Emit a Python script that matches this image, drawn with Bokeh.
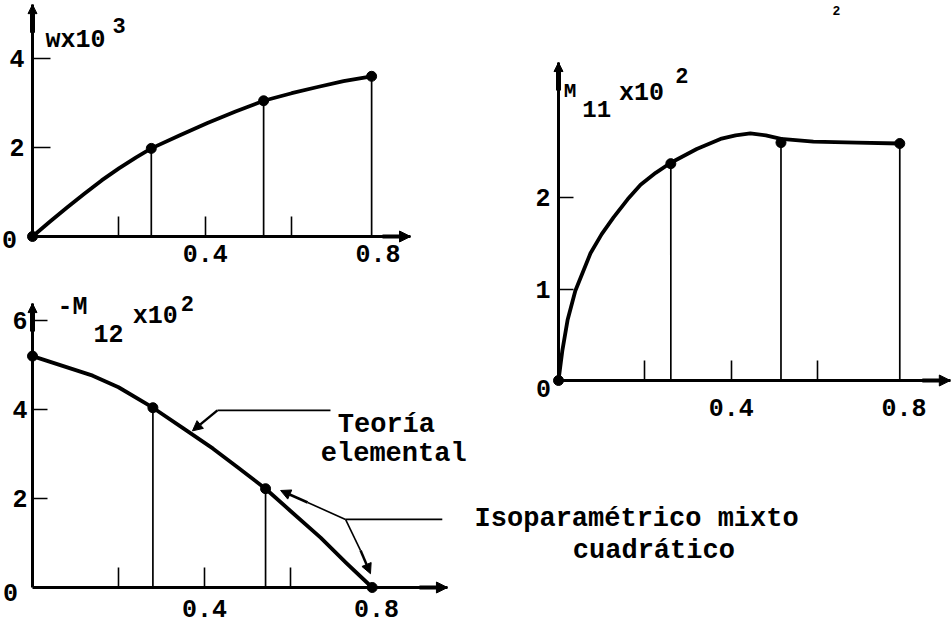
from bokeh.plotting import figure
from bokeh.models import Range1d, LinearAxis, FixedTicker, Arrow, NormalHead, Label
from bokeh.core.properties import value
from bokeh.embed import file_html
from bokeh.resources import INLINE

# ---------------- data ----------------
# deflection  w x 10^3
w_nodes_x = [0.0, 0.275, 0.535, 0.785]
w_nodes_y = [0.0, 1.98, 3.05, 3.6]
w_curve_x = [0.0, 0.04, 0.08, 0.12, 0.16, 0.2, 0.24, 0.275, 0.34, 0.405, 0.47, 0.535, 0.6, 0.66, 0.72, 0.785]
w_curve_y = [0.0, 0.33, 0.65, 0.96, 1.26, 1.53, 1.78, 1.98, 2.27, 2.55, 2.81, 3.05, 3.22, 3.36, 3.49, 3.6]

# moment  M11 x 10^2
m11_nodes_x = [0.0, 0.26, 0.515, 0.79]
m11_nodes_y = [0.0, 2.37, 2.6, 2.59]
m11_curve_x = [0.0, 0.009, 0.021, 0.039, 0.074, 0.1, 0.127, 0.16, 0.19, 0.225, 0.26, 0.32, 0.375, 0.41, 0.444, 0.48, 0.515, 0.59, 0.69, 0.79]
m11_curve_y = [0.0, 0.33, 0.66, 0.98, 1.39, 1.60, 1.78, 1.98, 2.14, 2.27, 2.38, 2.53, 2.64, 2.68, 2.70, 2.68, 2.64, 2.61, 2.60, 2.59]

# twisting moment  -M12 x 10^2
m12_nodes_x = [0.0, 0.28, 0.542, 0.79]
m12_nodes_y = [5.2, 4.04, 2.22, 0.0]
m12_curve_x = [0.0, 0.07, 0.14, 0.2, 0.28, 0.35, 0.42, 0.48, 0.542, 0.6, 0.67, 0.73, 0.79]
m12_curve_y = [5.2, 4.98, 4.76, 4.5, 4.04, 3.58, 3.12, 2.68, 2.22, 1.72, 1.12, 0.55, 0.0]

# axis ticks
x_marks = [0.2, 0.4, 0.6]
x_labels = [0.4, 0.8]
w_ticks = [2, 4]
m11_ticks = [1, 2]
m12_ticks = [2, 4, 6]

# ---------------- page ----------------
W, H = 951, 628
FONT = "Liberation Mono"
STYLE = "bold"

p = figure(width=W, height=H, x_range=Range1d(0, W), y_range=Range1d(H, 0),
           x_axis_type=None, y_axis_type=None, min_border=0,
           toolbar_location=None, output_backend="svg")
p.grid.visible = False
p.outline_line_color = None
p.background_fill_color = "white"
p.border_fill_color = "white"

# each panel: origin on the page (px) and pixels per data unit
panels = {
    "w":   dict(x0=32,  sx=432, y0=236, sy=44.5),
    "m11": dict(x0=558, sx=432, y0=380, sy=91.5),
    "m12": dict(x0=32,  sx=430, y0=587, sy=44.5),
}
xr, yr = {}, {}
for k, g in panels.items():
    xr[k] = Range1d((0 - g["x0"]) / g["sx"], (W - g["x0"]) / g["sx"])
    yr[k] = Range1d((g["y0"] - H) / g["sy"], g["y0"] / g["sy"])
p.extra_x_ranges = xr
p.extra_y_ranges = yr


def axes(k, xend, yend, yticks, ytick_len, xstand, ystand):
    kw = dict(x_range_name=k, y_range_name=k, fixed_location=0)
    lab = dict(major_label_text_font=FONT, major_label_text_font_size="25px",
               major_label_text_font_style=STYLE, major_label_text_color="black")
    # x axis line with short upward marks
    xa = LinearAxis(bounds=(0, xend), ticker=FixedTicker(ticks=x_marks),
                    major_tick_in=20, major_tick_out=0, major_tick_line_width=1.6,
                    axis_line_width=3, major_label_text_color=None,
                    minor_tick_line_color=None, **kw)
    # x tick labels
    xl = LinearAxis(ticker=FixedTicker(ticks=x_labels), axis_line_color=None,
                    major_tick_line_color=None, major_tick_in=0, major_tick_out=0,
                    minor_tick_line_color=None, major_label_standoff=xstand, **lab, **kw)
    ya = LinearAxis(bounds=(0, yend), ticker=FixedTicker(ticks=yticks),
                    major_tick_in=ytick_len, major_tick_out=0, major_tick_line_width=1.6,
                    axis_line_width=3, minor_tick_line_color=None,
                    major_label_standoff=ystand, **lab, **kw)
    p.add_layout(xa, "below")
    p.add_layout(xl, "below")
    p.add_layout(ya, "left")
    g = panels[k]
    # arrow tips on both axes
    p.add_layout(Arrow(x_start=xend - 28 / g["sx"], y_start=0, x_end=xend, y_end=0,
                       line_width=4, end=NormalHead(size=11, fill_color="black", line_color="black"),
                       x_range_name=k, y_range_name=k))
    p.add_layout(Arrow(x_start=0, y_start=yend - 28 / g["sy"], x_end=0, y_end=yend,
                       line_width=5, end=NormalHead(size=9, fill_color="black", line_color="black"),
                       x_range_name=k, y_range_name=k))


def series(k, cx, cy, nx, ny, drops):
    kw = dict(x_range_name=k, y_range_name=k)
    p.segment(x0=[nx[i] for i in drops], y0=[0] * len(drops),
              x1=[nx[i] for i in drops], y1=[ny[i] for i in drops],
              line_color="black", line_width=1.7, **kw)
    p.line(cx, cy, line_color="black", line_width=3.8, line_join="round", **kw)
    p.scatter(nx, ny, size=10, fill_color="black", line_color="black", **kw)


def txt(k, x, y, s, size, xo=0, yo=0, align="left"):
    p.text(x=[x], y=[y], text=[s], x_offset=xo, y_offset=yo,
           text_font=value(FONT), text_font_size=value(size), text_font_style=STYLE,
           text_color="black", text_align=align, text_baseline="middle",
           x_range_name=k, y_range_name=k)


# ---- w x 10^3 ----
axes("w", 0.875, 5.21, w_ticks, 18, 8, 8)
series("w", w_curve_x, w_curve_y, w_nodes_x, w_nodes_y, [1, 2, 3])
txt("w", 0, 0, "0", "25px", xo=-23, yo=3, align="center")
txt("w", 0.03, 4.40, "wx10", "25px")
txt("w", 0.185, 4.74, "3", "22px")

# ---- M11 x 10^2 ----
axes("m11", 0.907, 3.475, m11_ticks, 15, 18, 8)
series("m11", m11_curve_x, m11_curve_y, m11_nodes_x, m11_nodes_y, [1, 2, 3])
txt("m11", 0, 0, "0", "25px", xo=-15, yo=8, align="center")
txt("m11", 0.012, 3.16, "M", "21px")
txt("m11", 0.055, 2.97, "11", "24px")
txt("m11", 0.14, 3.14, "x10", "25px")
txt("m11", 0.27, 3.33, "2", "22px")

# ---- -M12 x 10^2 ----
axes("m12", 0.965, 6.38, m12_ticks, 15, 12, 5)
series("m12", m12_curve_x, m12_curve_y, m12_nodes_x, m12_nodes_y, [1, 2])
txt("m12", 0, 0, "0", "25px", xo=-22, yo=5, align="center")
txt("m12", 0.058, 6.29, "-M", "25px")
txt("m12", 0.142, 5.71, "12", "25px")
txt("m12", 0.233, 6.09, "x10", "25px")
txt("m12", 0.345, 6.38, "2", "22px")

# call-outs
kw3 = dict(x_range_name="m12", y_range_name="m12")
head = lambda: NormalHead(size=10, fill_color="black", line_color="black")
p.line([0.43, 0.693], [3.98, 3.98], line_color="black", line_width=1.6, **kw3)
p.add_layout(Arrow(x_start=0.43, y_start=3.98, x_end=0.372, y_end=3.52,
                   line_width=2.5, end=head(), **kw3))
txt("m12", 0.823, 3.66, "Teoría", "27px", align="center")
txt("m12", 0.84, 2.99, "elemental", "27px", align="center")

p.line([0.728, 0.953], [1.53, 1.53], line_color="black", line_width=1.6, **kw3)
p.line([0.728, 0.64], [1.53, 1.91], line_color="black", line_width=1.6, **kw3)
p.add_layout(Arrow(x_start=0.64, y_start=1.91, x_end=0.577, y_end=2.18,
                   line_width=2.5, end=head(), **kw3))
p.line([0.728, 0.763], [1.53, 0.83], line_color="black", line_width=1.6, **kw3)
p.add_layout(Arrow(x_start=0.763, y_start=0.83, x_end=0.786, y_end=0.31,
                   line_width=2.5, end=head(), **kw3))
txt("m12", 1.405, 1.55, "Isoparamétrico mixto", "27px", align="center")
txt("m12", 1.445, 0.81, "cuadrático", "27px", align="center")

# fragment of the heading above the figure
p.add_layout(Label(x=836, y=10, text="2", text_font=FONT, text_font_size="13px",
                   text_font_style=STYLE, text_align="center",
                   text_baseline="alphabetic", text_color="black"))

open("out.html", "w").write(file_html(p, INLINE))
